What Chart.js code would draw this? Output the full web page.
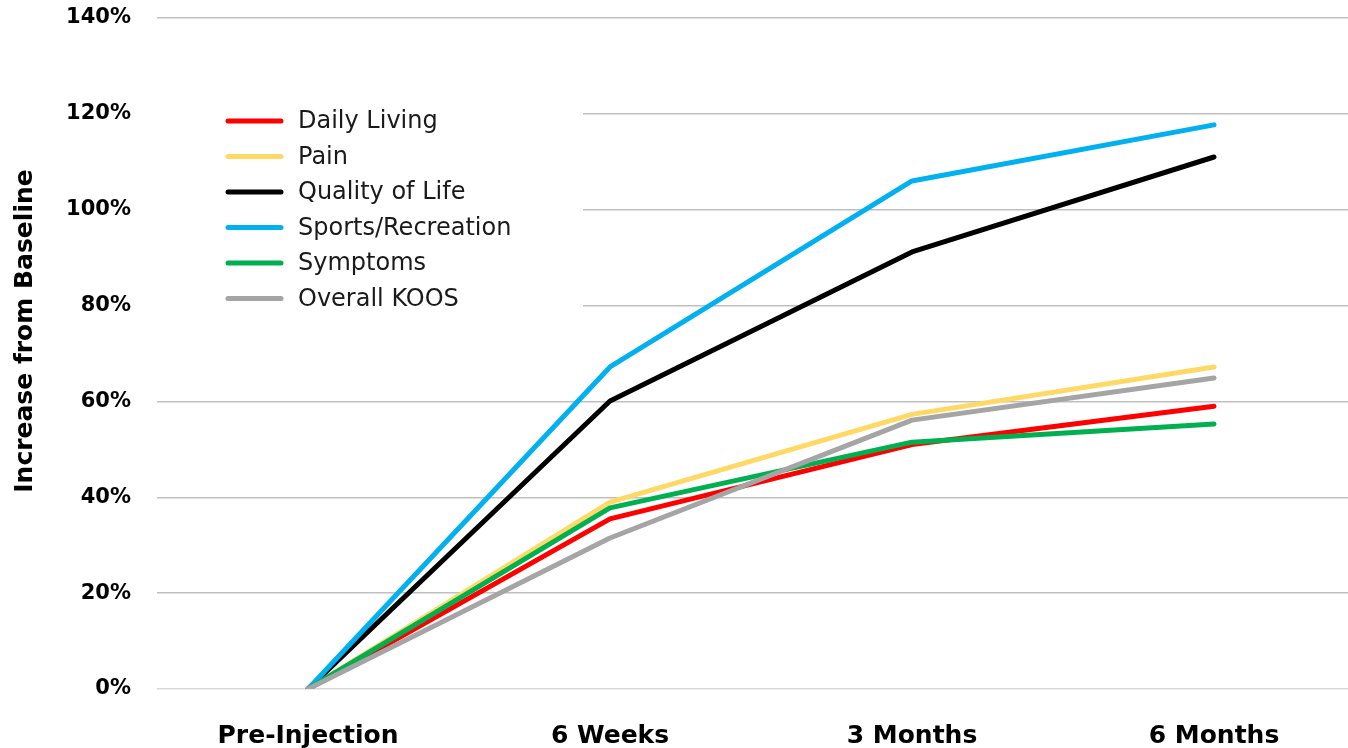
<!DOCTYPE html>
<html>
<head>
<meta charset="utf-8">
<script src="https://cdn.jsdelivr.net/npm/chart.js@4"></script>
<style>
  html, body { margin: 0; padding: 0; background: #fff; overflow: hidden; }
  .wrap { width: 1365px; height: 748px; }
</style>
</head>
<body>
<div class="wrap"><canvas id="chart" width="1365" height="748"></canvas></div>
<script>
const categories = ["Pre-Injection", "6 Weeks", "3 Months", "6 Months"];
const seriesNames = ["Daily Living", "Pain", "Quality of Life", "Sports/Recreation", "Symptoms", "Overall KOOS"];
const dailyLiving = [0, 35.5, 51.0, 59.0];
const pain = [0, 39.0, 57.3, 67.2];
const qualityOfLife = [0, 60.1, 91.2, 111.0];
const sportsRecreation = [0, 67.2, 106.0, 117.7];
const symptoms = [0, 37.8, 51.5, 55.3];
const overallKoos = [0, 31.5, 56.1, 64.9];
const yTicks = [0, 20, 40, 60, 80, 100, 120, 140];
const yTitle = "Increase from Baseline";

const colors = ["#ff0000", "#ffd966", "#000000", "#00b0f0", "#00b050", "#a5a5a5"];
const values = [dailyLiving, pain, qualityOfLife, sportsRecreation, symptoms, overallKoos];

const FONT = "'DejaVu Sans', sans-serif";

// legend drawn inside the plot, over a white box that hides the grid
const insideLegend = {
  id: "insideLegend",
  beforeDatasetsDraw(chart) {
    const ctx = chart.ctx;
    const left = chart.chartArea.left;
    ctx.save();
    ctx.fillStyle = "#fff";
    ctx.fillRect(left - 2, 95, 583 - left + 2, 225);
    ctx.font = "24px " + FONT;
    ctx.textBaseline = "middle";
    chart.data.datasets.forEach((ds, i) => {
      const y = 121 + i * 35.5;
      ctx.strokeStyle = ds.borderColor;
      ctx.lineWidth = 5;
      ctx.lineCap = "round";
      ctx.beginPath();
      ctx.moveTo(228, y);
      ctx.lineTo(281, y);
      ctx.stroke();
      ctx.fillStyle = "#1a1a1a";
      ctx.fillText(ds.label, 298, y + 1);
    });
    // y axis title
    ctx.translate(25, 331);
    ctx.rotate(-Math.PI / 2);
    ctx.font = "bold 25px " + FONT;
    ctx.fillStyle = "#000";
    ctx.textAlign = "center";
    ctx.fillText(yTitle, 0, 0);
    ctx.restore();
  }
};

new Chart(document.getElementById("chart"), {
  type: "line",
  data: {
    labels: categories,
    datasets: seriesNames.map((name, i) => ({
      label: name,
      data: values[i],
      borderColor: colors[i],
      backgroundColor: colors[i],
      borderWidth: 5,
      borderCapStyle: "round",
      borderJoinStyle: "round",
      pointRadius: 0,
      tension: 0,
      order: seriesNames.length - i,
    })),
  },
  options: {
    responsive: false,
    animation: false,
    layout: { padding: { top: 18, left: 0, right: 0, bottom: 0 } },
    plugins: {
      legend: { display: false },
      tooltip: { enabled: false },
    },
    scales: {
      x: {
        offset: true,
        grid: { display: false },
        border: { display: false },
        ticks: {
          color: "#000",
          font: { family: FONT, size: 25, weight: "bold" },
          padding: 24,
        },
        afterFit(scale) {
          scale.height = 59;
          scale.paddingLeft = 0;
          scale.paddingRight = 0;
        },
      },
      y: {
        min: 0,
        max: 140,
        afterBuildTicks(scale) { scale.ticks = yTicks.map(v => ({ value: v })); },
        grid: {
          color: ctx => (ctx.tick && ctx.tick.value === 0 ? "#d9d9d9" : "#bfbfbf"),
          lineWidth: 1.5,
          drawTicks: false,
        },
        border: { display: false },
        ticks: {
          color: "#000",
          font: { family: FONT, size: 21, weight: "bold" },
          padding: 26,
          callback: v => v + "%",
        },
        afterFit(scale) {
          scale.width = 157;
          scale.paddingTop = 0;
          scale.paddingBottom = 0;
        },
      },
    },
  },
  plugins: [insideLegend],
});
</script>
</body>
</html>
